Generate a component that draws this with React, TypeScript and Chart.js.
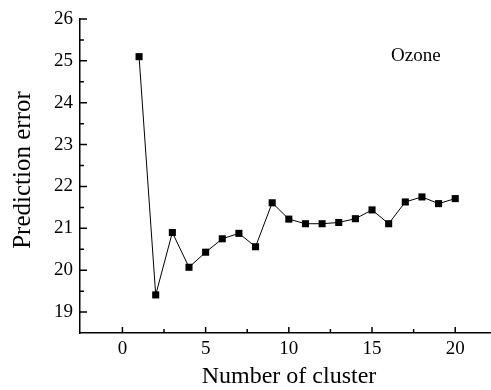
import React, { useEffect, useRef } from "react";
import { Chart, registerables } from "chart.js";

Chart.register(...registerables);

const clusters = [1, 2, 3, 4, 5, 6, 7, 8, 9, 10, 11, 12, 13, 14, 15, 16, 17, 18, 19, 20];
const predictionError = [25.1, 19.41, 20.9, 20.07, 20.43, 20.75, 20.88, 20.56, 21.61, 21.22, 21.11, 21.11, 21.14, 21.23, 21.44, 21.11, 21.63, 21.75, 21.59, 21.71];
const xTicks = [0, 5, 10, 15, 20];
const yTicks = [19, 20, 21, 22, 23, 24, 25, 26];
const xTitle = "Number of cluster";
const yTitle = "Prediction error";
const annotation = "Ozone";

const FONT = "'Liberation Serif', 'Times New Roman', serif";

const decorPlugin = {
  id: "decor",
  afterDraw(chart: any) {
    const ctx = chart.ctx;
    const xs = chart.scales.x;
    const ys = chart.scales.y;
    const area = chart.chartArea;
    ctx.save();
    ctx.strokeStyle = "#000";
    ctx.lineWidth = 1.5;
    ctx.beginPath();
    yTicks.forEach((v, i) => {
      const py = ys.getPixelForValue(v);
      ctx.moveTo(area.left, py);
      ctx.lineTo(area.left + 7, py);
      if (i < yTicks.length - 1) {
        const pm = ys.getPixelForValue((v + yTicks[i + 1]) / 2);
        ctx.moveTo(area.left, pm);
        ctx.lineTo(area.left + 4, pm);
      }
    });
    xTicks.forEach((v, i) => {
      const px = xs.getPixelForValue(v);
      ctx.moveTo(px, area.bottom);
      ctx.lineTo(px, area.bottom - 6);
      if (i < xTicks.length - 1) {
        const pm = xs.getPixelForValue((v + xTicks[i + 1]) / 2);
        ctx.moveTo(pm, area.bottom);
        ctx.lineTo(pm, area.bottom - 4);
      }
    });
    ctx.stroke();

    ctx.fillStyle = "#000";
    ctx.font = `24px ${FONT}`;
    ctx.textAlign = "center";
    ctx.textBaseline = "alphabetic";
    ctx.fillText(xTitle, 289, 383);
    ctx.save();
    ctx.font = `25px ${FONT}`;
    ctx.translate(30, 170);
    ctx.rotate(-Math.PI / 2);
    ctx.fillText(yTitle, 0, 0);
    ctx.restore();

    ctx.font = `19px ${FONT}`;
    ctx.textAlign = "left";
    ctx.fillText(annotation, 391, 61);
    ctx.restore();
  },
};

export default function App() {
  const ref = useRef<HTMLCanvasElement | null>(null);
  useEffect(() => {
    if (!ref.current) return;
    const chart = new Chart(ref.current, {
      type: "line",
      data: {
        labels: clusters,
        datasets: [
          {
            data: clusters.map((c, i) => ({ x: c, y: predictionError[i] })),
            borderColor: "#000",
            backgroundColor: "#000",
            borderWidth: 1,
            pointStyle: "rect",
            pointRadius: 5,
            pointBorderWidth: 0,
            tension: 0,
          },
        ],
      },
      options: {
        animation: false,
        responsive: false,
        devicePixelRatio: 1,
        layout: { autoPadding: false, padding: { top: 19, right: 0, left: 0, bottom: 0 } },
        plugins: { legend: { display: false }, tooltip: { enabled: false } },
        scales: {
          x: {
            type: "linear",
            min: -2.55,
            max: 22.15,
            afterBuildTicks: (s: any) => {
              s.ticks = xTicks.map((v) => ({ value: v }));
            },
            afterFit: (s: any) => {
              s.height = 57;
              s.paddingLeft = 0;
              s.paddingRight = 0;
            },
            grid: { display: true, drawOnChartArea: false, drawTicks: false },
            border: { display: true, color: "#000", width: 1.5 },
            ticks: {
              color: "#000",
              padding: 5,
              maxRotation: 0,
              font: { family: FONT, size: 19 },
            },
          },
          y: {
            type: "linear",
            min: 18.5,
            max: 26,
            afterBuildTicks: (s: any) => {
              s.ticks = yTicks.map((v) => ({ value: v }));
            },
            afterFit: (s: any) => {
              s.width = 80;
              s.paddingTop = 0;
              s.paddingBottom = 0;
            },
            grid: { display: true, drawOnChartArea: false, drawTicks: false },
            border: { display: true, color: "#000", width: 1.5 },
            ticks: {
              color: "#000",
              padding: 7,
              font: { family: FONT, size: 19 },
            },
          },
        },
      },
      plugins: [decorPlugin],
    });
    return () => chart.destroy();
  }, []);
  return (
    <div style={{ position: "fixed", left: 0, top: 0, width: 491, height: 390, background: "#fff" }}>
      <canvas ref={ref} width={491} height={390} />
    </div>
  );
}
